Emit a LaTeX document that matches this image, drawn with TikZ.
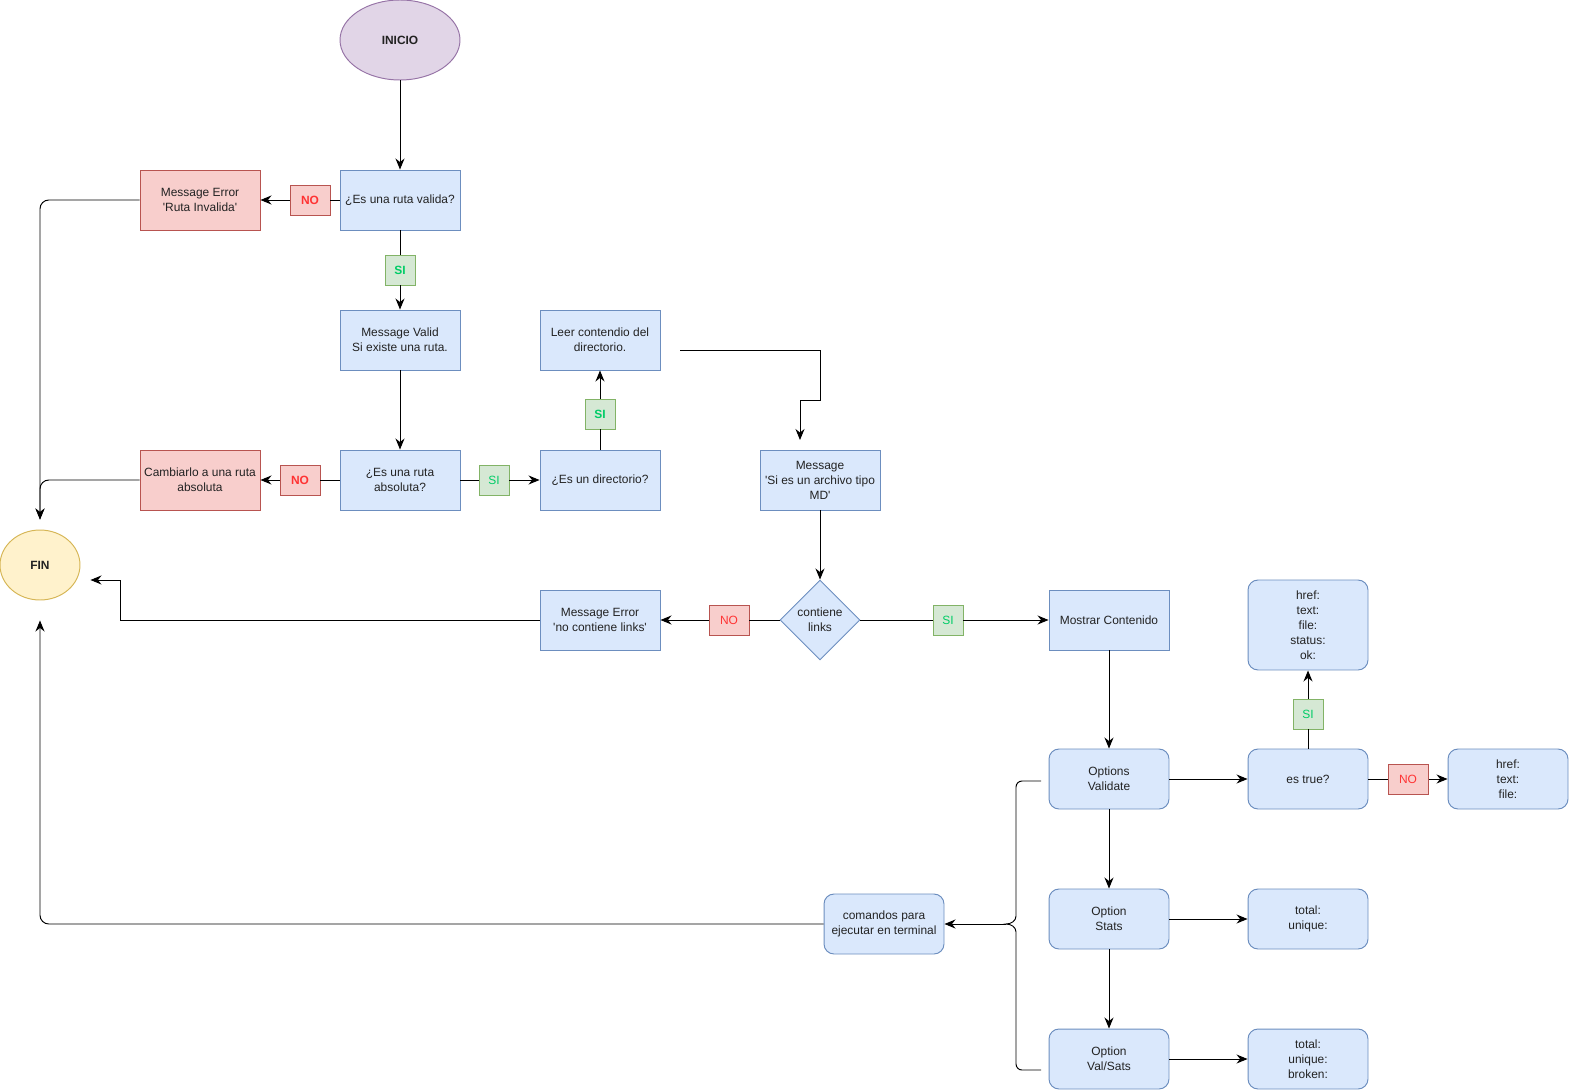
\documentclass[tikz,border=0pt]{standalone}
\usepackage{fontspec}
\setmainfont{Liberation Sans}
\usetikzlibrary{arrows.meta,shapes.geometric,positioning}
\definecolor{blueF}{HTML}{DAE8FC}
\definecolor{blueD}{HTML}{6C8EBF}
\definecolor{redF}{HTML}{F8CECC}
\definecolor{redD}{HTML}{B85450}
\definecolor{redT}{HTML}{FF3333}
\definecolor{greenF}{HTML}{D5E8D4}
\definecolor{greenD}{HTML}{82B366}
\definecolor{greenT}{HTML}{00CC66}
\definecolor{purF}{HTML}{E1D5E7}
\definecolor{purD}{HTML}{9673A6}
\definecolor{yelF}{HTML}{FFF2CC}
\definecolor{yelD}{HTML}{D6B656}
\definecolor{txt}{HTML}{222222}
\newcommand\lbl{\fontsize{6.8}{8.5}\selectfont}
\newcommand\q{\textquotesingle}
\tikzset{
  box/.style={draw=blueD,fill=blueF,line width=0.55pt,minimum width=2.4cm,minimum height=1.2cm,
    inner sep=1pt,align=center,font=\lbl,text=txt},
  rbox/.style={box,rounded corners=0.2cm},
  errbox/.style={box,draw=redD,fill=redF},
  ask/.style={box,diamond,aspect=1,minimum width=1.6cm,minimum height=1.6cm,inner sep=0pt},
  term/.style={ellipse,line width=0.55pt,font=\lbl\bfseries,text=txt,inner sep=0pt},
  siLbl/.style={draw=greenD,fill=greenF,text=greenT,line width=0.55pt,font=\lbl,
    minimum size=0.6cm,inner sep=0pt},
  noLbl/.style={draw=redD,fill=redF,text=redT,line width=0.55pt,font=\lbl,
    minimum width=0.8cm,minimum height=0.6cm,inner sep=0pt},
  flow/.style={line width=0.55pt,-{Stealth[length=2.2mm,width=1.8mm]}},
  seg/.style={line width=0.55pt},
}
\begin{document}
\begin{tikzpicture}[x=0.02cm,y=-0.02cm]
  \useasboundingbox (0,0) rectangle (1571,1091);
  % start / end
  \node[term,draw=purD,fill=purF,minimum width=2.4cm,minimum height=1.6cm] (inicio) at (400,40) {INICIO};
  \node[term,draw=yelD,fill=yelF,minimum width=1.6cm,minimum height=1.4cm] (fin) at (40,565) {FIN};
  % path checks
  \node[box] (ruta) at (400,200) {¿Es una ruta valida?};
  \node[errbox] (errRuta) at (200,200) {Message Error\\\q Ruta Invalida\q};
  \node[box] (valid) at (400,340) {Message Valid\\Si existe una ruta.};
  \node[box] (abs) at (400,480) {¿Es una ruta\\absoluta?};
  \node[errbox] (cambiar) at (200,480) {Cambiarlo a una ruta\\absoluta};
  \node[box] (dir) at (600,480) {¿Es un directorio?};
  \node[box] (leer) at (600,340) {Leer contendio del\\directorio.};
  \node[box] (md) at (820,480) {Message\\\q Si es un archivo tipo\\MD\q};
  \node[ask] (links) at (820,620) {contiene\\links};
  \node[box] (noLinks) at (600,620) {Message Error\\\q no contiene links\q};
  \node[box] (mostrar) at (1109,620) {Mostrar Contenido};
  % options
  \node[rbox] (validate) at (1109,779) {Options\\Validate};
  \node[rbox] (stats) at (1109,919) {Option\\Stats};
  \node[rbox] (valStats) at (1109,1059) {Option\\Val/Sats};
  \node[rbox] (esTrue) at (1308,779) {es true?};
  \node[rbox,minimum height=1.8cm] (resOk) at (1308,625) {href:\\text:\\file:\\status:\\ok:};
  \node[rbox] (resNo) at (1508,779) {href:\\text:\\file:};
  \node[rbox] (resStats) at (1308,919) {total:\\unique:};
  \node[rbox] (resBoth) at (1308,1059) {total:\\unique:\\broken:};
  \node[rbox] (comandos) at (884,924) {comandos para\\ejecutar en terminal};
  % yes / no tags
  \node[noLbl,font=\lbl\bfseries] (no1) at (310,200) {NO};
  \node[siLbl,font=\lbl\bfseries] (si1) at (400,270) {SI};
  \node[noLbl,font=\lbl\bfseries] (no2) at (300,480) {NO};
  \node[siLbl] (si2) at (494,480) {SI};
  \node[siLbl,font=\lbl\bfseries] (si3) at (600,414) {SI};
  \node[noLbl] (no3) at (729,620) {NO};
  \node[siLbl] (si4) at (948,620) {SI};
  \node[siLbl] (si5) at (1308,714) {SI};
  \node[noLbl] (no5) at (1408,779) {NO};
  \coordinate (lrOut) at (680,350);
  \coordinate (mdIn) at (800,440);
  \coordinate (finR) at ([xshift=0.2cm,yshift=-0.3cm]fin.east);
  \coordinate (tip) at (1000,924);

  \draw[flow] (inicio) -- (ruta);
  \draw[seg] (ruta) -- (no1);
  \draw[flow] (no1) -- (errRuta);
  \draw[seg] (ruta) -- (si1);
  \draw[flow] (si1) -- (valid);
  \draw[flow] (valid) -- (abs);
  \draw[seg] (abs) -- (no2);
  \draw[flow] (no2) -- (cambiar);
  \draw[seg] (abs) -- (si2);
  \draw[flow] (si2) -- (dir);
  \draw[seg] (dir) -- (si3);
  \draw[flow] (si3) -- (leer);
  \draw[flow] (lrOut) -| (820,400) -| (mdIn);
  \draw[flow] (md) -- (links);
  \draw[seg] (links) -- (no3);
  \draw[flow] (no3) -- (noLinks);
  \draw[seg] (links) -- (si4);
  \draw[flow] (si4) -- (mostrar);
  \draw[flow] (mostrar) -- (validate);
  \draw[flow] (validate) -- (stats);
  \draw[flow] (stats) -- (valStats);
  \draw[flow] (validate) -- (esTrue);
  \draw[flow] (stats) -- (resStats);
  \draw[flow] (valStats) -- (resBoth);
  \draw[seg] (esTrue) -- (si5);
  \draw[flow] (si5) -- (resOk);
  \draw[seg] (esTrue) -- (no5);
  \draw[flow] (no5) -- (resNo);
  % back to FIN
  \draw[flow,rounded corners=5pt,shorten >=0.2cm] (errRuta.west) -| (fin.north);
  \draw[flow,rounded corners=5pt,shorten >=0.2cm] (cambiar.west) -| (fin.north);
  \draw[flow] (noLinks.west) -- (120,620) |- (finR);
  \draw[flow,rounded corners=5pt,shorten >=0.4cm] (comandos.west) -| (fin.south);
  % brace round the options
  \draw[seg] (1041,781) -- (1022,781) to[out=180,in=90] (1016,787) -- (1016,916)
    to[out=-90,in=0] (1006,924) to[out=0,in=90] (1016,932) -- (1016,1064)
    to[out=-90,in=180] (1022,1070) -- (1041,1070);
  \draw[seg] (1006,924) -- (tip);
  \draw[flow] (tip) -- (comandos);
\end{tikzpicture}
\end{document}
